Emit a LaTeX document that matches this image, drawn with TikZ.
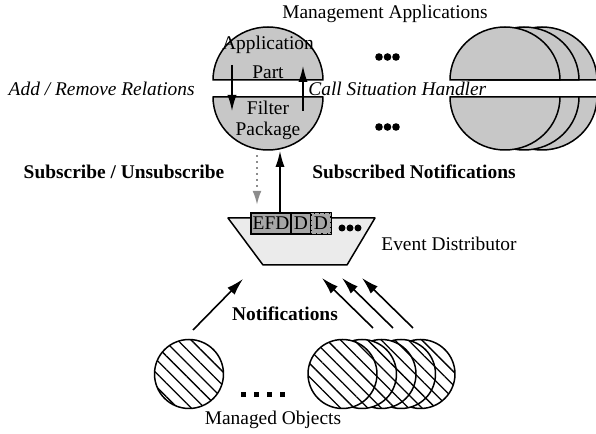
\documentclass[tikz,border=0pt]{standalone}
\usepackage{fontspec}
\setmainfont{Liberation Serif}
\usetikzlibrary{arrows.meta,patterns.meta}

\begin{document}
\begin{tikzpicture}[x=5pt,y=5pt,join=round, % Event Distribution
       lbl/.style={font=\fontsize{9.7}{11}\selectfont,inner sep=0pt},
       ilbl/.style={lbl,font=\fontsize{9.7}{11}\selectfont\itshape},
       blbl/.style={lbl,font=\fontsize{9.7}{11}\selectfont\bfseries},
       half/.style={fill=black!22,line width=0.75pt},
       cell/.style={draw,fill=black!35,line width=0.6pt,minimum height=10.5pt,inner sep=0pt,
                    font=\fontsize{9.7}{11}\selectfont},
       hatch/.style={fill=white,line width=0.75pt,
                     postaction={pattern={Lines[angle=-45,distance=4.8pt,line width=0.65pt]}}},
       arr/.style={line width=0.75pt,-{Latex[length=8pt,width=4.6pt]}},
       arrb/.style={line width=0.8pt,-{Latex[length=8.5pt,width=5pt]}}]
       \useasboundingbox (0,0) rectangle (59.6,43.4);
       % applications, split in two halves
       \foreach \cx in {54.2,52.4,50.5,26.8}{
          \filldraw[half] (\cx-5.5,35.4) arc[start angle=180,end angle=0,x radius=5.5,y radius=5.3] -- cycle;
          \filldraw[half] (\cx-5.5,33.7) arc[start angle=180,end angle=360,x radius=5.5,y radius=5.3] -- cycle;
       }
       \node[lbl] (mgmt) at (38.5,42.0) {Management Applications};
       \node[lbl] (appl) at (26.8,38.9) {Application};
       \node[lbl] (part) at (26.8,36.2) {Part};
       \node[lbl] (filt) at (26.8,32.6) {Filter};
       \node[lbl] (pack) at (26.8,30.3) {Package};
       \node[ilbl,anchor=east] (addrm) at (19.5,34.5) {Add / Remove Relations};
       \node[ilbl,anchor=west] (call) at (30.8,34.5) {Call Situation Handler};
       \coordinate (addA) at (23.2,36.9);
       \coordinate (addB) at (23.2,32.3);
       \coordinate (callA) at (30.3,32.3);
       \coordinate (callB) at (30.3,36.8);
       \draw[arr] (addA) -- (addB);
       \draw[arr] (callA) -- (callB);
       \foreach \x in {37.9,38.75,39.6}{
          \fill (\x,37.7) circle (0.38);
          \fill (\x,30.7) circle (0.38);
       }
       % event distributor
       \filldraw[fill=black!8,line width=0.75pt] (22.8,21.6) -- (37.5,21.6) -- (34.7,16.9) -- (26.3,16.9) -- cycle;
       \node[cell,minimum width=20pt] (efd) at (27.1,21.05) {EFD};
       \node[cell,minimum width=10pt] (dA) at (30.1,21.05) {D};
       \node[cell,minimum width=10pt,dotted] (dB) at (32.1,21.05) {D};
       \draw[line width=0.6pt] (efd.north west) rectangle (dB.south east);
       \foreach \x in {34.2,35.0,35.8} \fill (\x,20.6) circle (0.35);
       \node[lbl,anchor=west] (evd) at (38.1,19.0) {Event Distributor};
       \node[blbl] (subs) at (12.4,26.2) {Subscribe / Unsubscribe};
       \node[blbl] (subn) at (41.4,26.2) {Subscribed Notifications};
       \coordinate (subA) at (25.7,27.9);
       \coordinate (subB) at (25.7,22.9);
       \coordinate (notA) at (28.0,22.2);
       \coordinate (notB) at (28.0,28.3);
       \draw[black!45,line width=1pt,dotted,-{Latex[length=7pt,width=4.4pt]}] (subA) -- (subB);
       \draw[arr] (notA) -- (notB);
       % managed objects
       \foreach \cx in {42.05,40.1,38.15,36.2,34.25}
          \draw[hatch] (\cx,6.0) circle (3.45);
       \draw[hatch] (18.9,6.0) circle (3.45);
       \foreach \x in {24.3,25.6,26.9,28.2} \fill (\x-0.25,3.65) rectangle ++(0.5,0.5);
       \node[lbl] (mobj) at (27.3,1.4) {Managed Objects};
       \node[blbl] (notif) at (28.5,12.0) {Notifications};
       \coordinate (moA) at (19.3,10.4);
       \coordinate (moB) at (24.3,15.5);
       \draw[arrb] (moA) -- (moB);
       \foreach \i in {0,1,2}{
          \coordinate (mo\i A) at (37.3+2*\i,10.6);
          \coordinate (mo\i B) at (32.2+2*\i,15.6);
          \draw[arrb] (mo\i A) -- (mo\i B);
       }
\end{tikzpicture}
\end{document}
